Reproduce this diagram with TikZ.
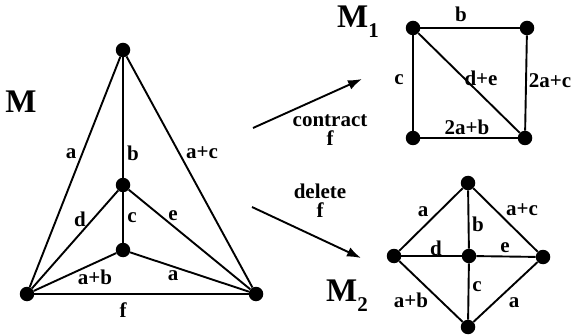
\documentclass[tikz,border=0pt]{standalone}
\usepackage{fontspec}
\setmainfont{Liberation Serif}
\usetikzlibrary{arrows.meta,positioning}

\begin{document}
\begin{tikzpicture}[x=1pt, y=-1pt, >={Latex[length=14pt,width=10pt]},
  dot/.style={circle, fill, inner sep=0pt, minimum size=14.5pt},
  edge/.style={line width=1.9pt},
  lbl/.style={font=\fontsize{21}{19}\selectfont\bfseries, inner sep=0pt, align=center},
  big/.style={font=\fontsize{33}{33}\selectfont\bfseries, inner sep=0pt},
  arr/.style={->, line width=1.9pt}
]
\useasboundingbox (0,0) rectangle (577,336);

% graph M
\node[dot] (top) at (123,50) {};
\node[dot] (mid) at (123,185) {};
\node[dot] (low) at (123,250) {};
\node[dot] (bl) at (27,294) {};
\node[dot] (br) at (256,294) {};
\draw[edge] (top) -- (bl);
\draw[edge] (top) -- (mid);
\draw[edge] (top) -- (br);
\draw[edge] (mid) -- (bl);
\draw[edge] (mid) -- (low);
\draw[edge] (mid) -- (br);
\draw[edge] (low) -- (bl);
\draw[edge] (low) -- (br);
\draw[edge] (bl) -- (br);
\node[big] (m) at (21,102) {M};
\node[lbl] at (71,154) {a};
\node[lbl] at (133,153) {b};
\node[lbl] at (202,153) {a+c};
\node[lbl] at (80,219) {d};
\node[lbl] at (132,218) {c};
\node[lbl] at (173,216) {e};
\node[lbl] at (95,277) {a+b};
\node[lbl] at (173,276) {a};
\node[lbl] at (123,310) {f};

% contract / delete
\coordinate (c1) at (253,128);
\coordinate (c2) at (362,79);
\coordinate (d1) at (252,207);
\coordinate (d2) at (361,258);
\draw[arr] (c1) -- (c2);
\draw[arr] (d1) -- (d2);
\node[lbl] (contract) at (330,130) {contract\\f};
\node[lbl] (delete) at (320,201) {delete\\f};

% graph M1
\node[dot] (tl) at (413,28) {};
\node[dot] (tr) at (527,28) {};
\node[dot] (ll) at (413,138) {};
\node[dot] (lr) at (525,138) {};
\draw[edge] (tl) -- (tr);
\draw[edge] (tl) -- (ll);
\draw[edge] (tl) -- (lr);
\draw[edge] (tr) -- (lr);
\draw[edge] (ll) -- (lr);
\node[big, anchor=west] (m1) at (337,22) {M\raisebox{-10pt}{\fontsize{21}{21}\selectfont 1}};
\node[lbl] at (461,14) {b};
\node[lbl] at (399,80) {c};
\node[lbl] at (481,78) {d+e};
\node[lbl] at (550,81) {2a+c};
\node[lbl] at (467,127) {2a+b};

% graph M2
\node[dot] (n) at (468,183) {};
\node[dot] (w) at (394,256) {};
\node[dot] (o) at (469,256) {};
\node[dot] (e) at (543,257) {};
\node[dot] (s) at (468,327) {};
\draw[edge] (n) -- (w);
\draw[edge] (n) -- (o);
\draw[edge] (n) -- (e);
\draw[edge] (w) -- (o);
\draw[edge] (o) -- (e);
\draw[edge] (w) -- (s);
\draw[edge] (o) -- (s);
\draw[edge] (e) -- (s);
\node[big, anchor=west] (m2) at (326,296) {M\raisebox{-10pt}{\fontsize{21}{21}\selectfont 2}};
\node[lbl] at (423,212) {a};
\node[lbl] at (478,224) {b};
\node[lbl] at (522,210) {a+c};
\node[lbl] at (436,248) {d};
\node[lbl] at (505,248) {e};
\node[lbl] at (477,287) {c};
\node[lbl] at (411,300) {a+b};
\node[lbl] at (514,303) {a};
\end{tikzpicture}
\end{document}
